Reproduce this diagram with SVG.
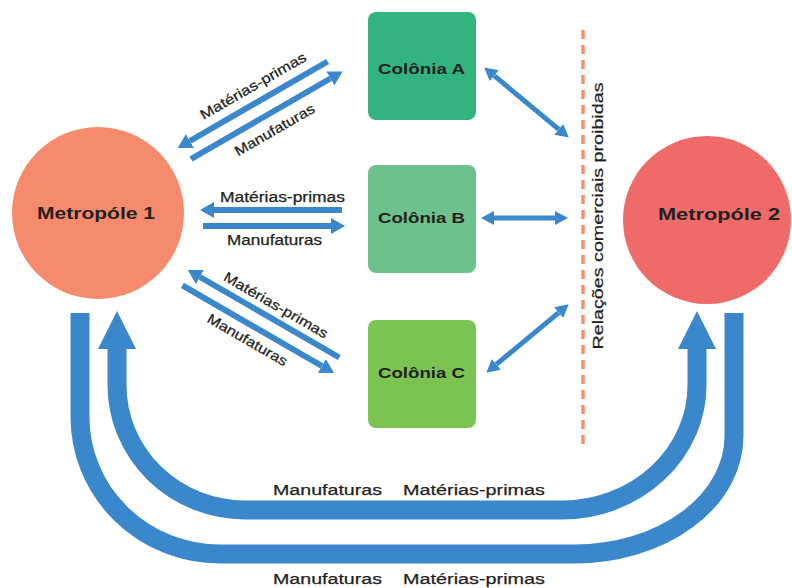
<svg xmlns="http://www.w3.org/2000/svg" width="792" height="588" viewBox="0 0 792 588">
<style>
  .t { font-family: "Liberation Sans", Arial, sans-serif; fill: #231f20; stroke: #231f20; stroke-width: 0.25; }
  .b { font-weight: bold; stroke-width: 0; }
  .lbl { font-size: 14px; }
  .big { font-size: 15.5px; }
  .thin { stroke: #3b87cb; stroke-width: 6; fill: none; marker-end: url(#ah); }
  .dbl { stroke: #3b87cb; stroke-width: 5; fill: none; marker-end: url(#ahd); marker-start: url(#ahds); }
  .band { stroke: #3b87cb; stroke-width: 19; fill: none; }
</style>
<defs>
  <marker id="ah" markerUnits="userSpaceOnUse" markerWidth="14" markerHeight="16" refX="0" refY="8" orient="auto">
    <path d="M0,0 L14,8 L0,16 z" fill="#3b87cb"/>
  </marker>
  <marker id="ahd" markerUnits="userSpaceOnUse" markerWidth="13" markerHeight="14" refX="0" refY="7" orient="auto">
    <path d="M0,0 L13,7 L0,14 z" fill="#3b87cb"/>
  </marker>
  <marker id="ahds" markerUnits="userSpaceOnUse" markerWidth="13" markerHeight="14" refX="0" refY="7" orient="auto-start-reverse">
    <path d="M0,0 L13,7 L0,14 z" fill="#3b87cb"/>
  </marker>
</defs>
<rect width="792" height="588" fill="#ffffff"/>

<g id="divider">
  <line x1="583" y1="30" x2="583" y2="448" stroke="#f2906f" stroke-width="3.5" stroke-dasharray="9 6"/>
  <text class="t" font-size="15" text-anchor="middle" textLength="267" lengthAdjust="spacingAndGlyphs" transform="translate(603,216) rotate(-90)">Relações comerciais proibidas</text>
</g>

<g id="connectors">
  <!-- Colonia A -->
  <line class="thin" x1="327.6" y1="61.5" x2="189.9" y2="141"/>
  <line class="thin" x1="191" y1="159" x2="330.4" y2="78.5"/>
  <!-- Colonia B -->
  <line class="thin" x1="342" y1="210" x2="214" y2="210"/>
  <line class="thin" x1="203" y1="226" x2="331" y2="226"/>
  <!-- Colonia C -->
  <line class="thin" x1="339.3" y1="357.5" x2="199.9" y2="277"/>
  <line class="thin" x1="182.4" y1="285.4" x2="321.9" y2="366"/>
  <!-- forbidden relations -->
  <line class="dbl" x1="494.2" y1="75.7" x2="558.8" y2="129.3"/>
  <line class="dbl" x1="494" y1="218" x2="555" y2="218"/>
  <line class="dbl" x1="496.3" y1="364.4" x2="558.7" y2="312.6"/>
  <!-- bottom bands -->
  <path class="band" d="M117,347 V385 A128,125 0 0 0 245,510 H562 A135,125 0 0 0 697,385 V347"/>
  <polygon points="98,349 117,311 136,349" fill="#3b87cb"/>
  <polygon points="678,349 697,311 716,349" fill="#3b87cb"/>
  <path class="band" d="M80,313 V417 A140,137 0 0 0 220,554 H575 A159,118 0 0 0 734,436 V313"/>

  <text class="t lbl" text-anchor="middle" textLength="120" lengthAdjust="spacingAndGlyphs" transform="translate(255.5,90) rotate(-30)">Matérias-primas</text>
  <text class="t lbl" text-anchor="middle" textLength="90" lengthAdjust="spacingAndGlyphs" transform="translate(277,134) rotate(-30)">Manufaturas</text>
  <text class="t lbl" text-anchor="middle" textLength="125" lengthAdjust="spacingAndGlyphs" x="282.5" y="202">Matérias-primas</text>
  <text class="t lbl" text-anchor="middle" textLength="95" lengthAdjust="spacingAndGlyphs" x="274.5" y="245">Manufaturas</text>
  <text class="t lbl" text-anchor="middle" textLength="118" lengthAdjust="spacingAndGlyphs" transform="translate(273.5,309.3) rotate(30)">Matérias-primas</text>
  <text class="t lbl" text-anchor="middle" textLength="90" lengthAdjust="spacingAndGlyphs" transform="translate(245,344) rotate(30)">Manufaturas</text>

  <text class="t big" text-anchor="middle" textLength="109" lengthAdjust="spacingAndGlyphs" x="327.5" y="495">Manufaturas</text>
  <text class="t big" text-anchor="middle" textLength="142" lengthAdjust="spacingAndGlyphs" x="474" y="495">Matérias-primas</text>
  <text class="t big" text-anchor="middle" textLength="109" lengthAdjust="spacingAndGlyphs" x="327.5" y="584">Manufaturas</text>
  <text class="t big" text-anchor="middle" textLength="142" lengthAdjust="spacingAndGlyphs" x="474" y="584">Matérias-primas</text>
</g>

<g id="metropole1">
  <circle cx="98" cy="213" r="86" fill="#f58b6c"/>
  <text class="t b" font-size="17" text-anchor="middle" textLength="118" lengthAdjust="spacingAndGlyphs" x="96" y="219">Metropóle 1</text>
</g>
<g id="metropole2">
  <circle cx="707" cy="220" r="84" fill="#ef6b6a"/>
  <text class="t b" font-size="17" text-anchor="middle" textLength="122" lengthAdjust="spacingAndGlyphs" x="719" y="220">Metropóle 2</text>
</g>
<g id="coloniaA">
  <rect x="368" y="12" width="108" height="108" rx="8" fill="#33b47f"/>
  <text class="t b" font-size="15" text-anchor="middle" textLength="87" lengthAdjust="spacingAndGlyphs" x="421.5" y="74">Colônia A</text>
</g>
<g id="coloniaB">
  <rect x="368" y="165" width="108" height="108" rx="8" fill="#6cc18c"/>
  <text class="t b" font-size="15" text-anchor="middle" textLength="87" lengthAdjust="spacingAndGlyphs" x="421.5" y="223">Colônia B</text>
</g>
<g id="coloniaC">
  <rect x="368" y="320" width="108" height="108" rx="8" fill="#7bc452"/>
  <text class="t b" font-size="15" text-anchor="middle" textLength="87" lengthAdjust="spacingAndGlyphs" x="421.5" y="378">Colônia C</text>
</g>
</svg>
